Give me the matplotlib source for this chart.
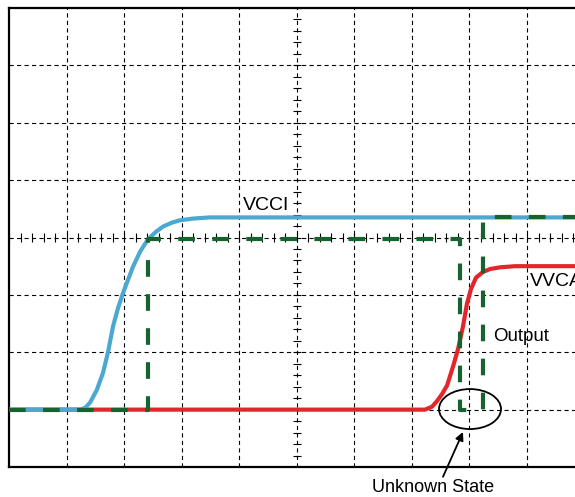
import numpy as np
import matplotlib
matplotlib.use('Agg')
import matplotlib.pyplot as plt
from matplotlib.patches import Ellipse

plt.rcParams['font.family'] = ['Liberation Sans', 'DejaVu Sans']
plt.rcParams['lines.scale_dashes'] = False

# Waveforms in scope divisions (x: 0..10, y: 0..8)
vcci_x = [0.0, 1.233, 1.320, 1.407, 1.524, 1.633, 1.720, 1.807, 1.894, 1.980,
          2.154, 2.276, 2.415, 2.554, 2.675, 2.832, 2.971, 3.197, 3.492, 10.0]
vcci_y = [1.0, 1.0, 1.03, 1.12, 1.34, 1.64, 2.0, 2.45, 2.77, 3.03,
          3.49, 3.75, 3.97, 4.1, 4.19, 4.26, 4.3, 4.33, 4.35, 4.35]

vvca_x = [0.0, 7.227, 7.349, 7.436, 7.523, 7.610, 7.714, 7.800, 7.887, 7.957,
          8.026, 8.113, 8.235, 8.357, 8.530, 8.791, 10.0]
vvca_y = [1.0, 1.0, 1.05, 1.15, 1.27, 1.42, 1.75, 2.05, 2.45, 2.85,
          3.1, 3.3, 3.4, 3.45, 3.48, 3.5, 3.5]

output_x = [0.0, 2.415, 2.415, 7.836, 7.836, 8.235, 8.235, 10.0]
output_y = [1.0, 1.0, 3.97, 3.97, 1.0, 1.0, 4.35, 4.35]

fig = plt.figure(figsize=(5.75, 4.97), dpi=100)
ax = fig.add_axes([9 / 575, 30 / 497, 575.6 / 575, 459 / 497])
ax.set_xlim(0, 10)
ax.set_ylim(0, 8)

# graticule
ax.set_xticks(range(1, 10))
ax.set_yticks(range(1, 8))
ax.tick_params(length=0, labelbottom=False, labelleft=False)
ax.grid(True, color='black', linestyle=(0, (3, 2.4)), linewidth=0.8)
for s in ax.spines.values():
    s.set_linewidth(1.6)
    s.set_color('black')

# minor ticks along the centre lines
sub = np.arange(0, 10.01, 0.2)
ax.vlines(sub, 4 - 0.07, 4 + 0.07, color='black', linewidth=0.8)
sub_y = np.arange(0, 8.01, 0.2)
ax.hlines(sub_y, 5 - 0.07, 5 + 0.07, color='black', linewidth=0.8)

ax.plot(vvca_x, vvca_y, color='#E3262B', linewidth=3.0, zorder=3,
        solid_capstyle='butt')
ax.plot(vcci_x, vcci_y, color='#4BA9D1', linewidth=3.0, zorder=4,
        solid_capstyle='butt')
ax.plot(output_x, output_y, color='#17632F', linewidth=3.0, zorder=5,
        linestyle=(0, (12, 12.5)), dash_capstyle='butt')

ax.text(4.465, 4.55, 'VCCI', fontsize=14, ha='center', va='center')
ax.text(8.409, 2.27, 'Output', fontsize=13.5, ha='left', va='center')
ax.text(9.05, 3.23, 'VVCA', fontsize=14, ha='left', va='center')

ax.add_patch(Ellipse((8.009, 1.01), 1.077, 0.697, fill=False,
                     edgecolor='black', linewidth=1.3, zorder=6))
ax.annotate('', xy=(7.887, 0.61), xytext=(7.54, -0.17),
            arrowprops=dict(arrowstyle='-|>', color='black', lw=1.3,
                            mutation_scale=12, shrinkA=0, shrinkB=0),
            annotation_clip=False)
ax.text(7.366, -0.35, 'Unknown State', fontsize=13, ha='center', va='center',
        clip_on=False)

fig.savefig('out.png', dpi=100)
